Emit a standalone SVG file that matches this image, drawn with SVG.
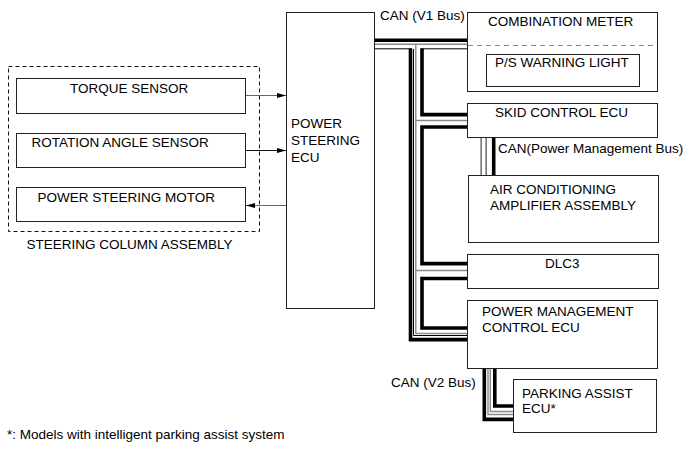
<svg xmlns="http://www.w3.org/2000/svg" width="691" height="467" viewBox="0 0 691 467">
<defs>
<style>
.box{fill:#fff;stroke:#222;stroke-width:1}
.dash{fill:none;stroke:#111;stroke-width:1;stroke-dasharray:4 3}
.t{font-family:"Liberation Sans",Arial,sans-serif;font-size:13.5px;fill:#000}
.thick{fill:none;stroke:#000;stroke-width:3.6;stroke-linejoin:miter}
.thin{fill:none;stroke:#000;stroke-width:1}
.gray{fill:none;stroke:#8a8a8a;stroke-width:1.4}
.hollowO{fill:none;stroke:#222;stroke-width:6}
.hollowI{fill:none;stroke:#fff;stroke-width:4}
.sig{fill:none;stroke:#666;stroke-width:1}
</style>
<marker id="ah" markerWidth="10" markerHeight="6" refX="9" refY="3" orient="auto" markerUnits="userSpaceOnUse">
<path d="M0,0.5 L9,3 L0,5.5 Z" fill="#000"/>
</marker>
</defs>
<rect width="691" height="467" fill="#fff"/>

<g id="steering-column-assembly">
<rect class="dash" x="8.5" y="66.5" width="251" height="165"/>
<text class="t" x="26.5" y="248.7">STEERING COLUMN ASSEMBLY</text>
</g>
<g id="torque-sensor">
<rect class="box" x="16.5" y="78.5" width="229" height="35"/>
<text class="t" x="70" y="92.5">TORQUE SENSOR</text>
</g>
<g id="rotation-angle-sensor">
<rect class="box" x="16.5" y="133.5" width="229" height="34"/>
<text class="t" x="31.5" y="147.2">ROTATION ANGLE SENSOR</text>
</g>
<g id="power-steering-motor">
<rect class="box" x="16.5" y="187.5" width="229" height="34"/>
<text class="t" x="37.5" y="201.5">POWER STEERING MOTOR</text>
</g>
<g id="power-steering-ecu">
<rect class="box" x="286.5" y="12.5" width="88" height="296"/>
<text class="t" x="291" y="128">POWER</text>
<text class="t" x="291" y="145">STEERING</text>
<text class="t" x="291" y="162">ECU</text>
</g>
<g id="combination-meter">
<rect class="box" x="467.5" y="12.5" width="190" height="79"/>
<line x1="468" y1="45.5" x2="657" y2="45.5" stroke="#888" stroke-width="1" stroke-dasharray="5 4"/>
<text class="t" x="488" y="25.5">COMBINATION METER</text>
</g>
<g id="ps-warning-light">
<rect class="box" x="486.5" y="54.5" width="153" height="32"/>
<text class="t" x="495" y="66.5">P/S WARNING LIGHT</text>
</g>
<g id="skid-control-ecu">
<rect class="box" x="467.5" y="103.5" width="190" height="34"/>
<text class="t" x="495" y="116.5">SKID CONTROL ECU</text>
</g>
<g id="air-conditioning-amplifier">
<rect class="box" x="468.5" y="175.5" width="190" height="67"/>
<text class="t" x="490" y="194.2">AIR CONDITIONING</text>
<text class="t" x="490" y="209.9">AMPLIFIER ASSEMBLY</text>
</g>
<g id="dlc3">
<rect class="box" x="467.5" y="254.5" width="191" height="34"/>
<text class="t" x="545" y="268.2">DLC3</text>
</g>
<g id="power-management-control-ecu">
<rect class="box" x="467.5" y="300.5" width="190" height="68"/>
<text class="t" x="482" y="315.9">POWER MANAGEMENT</text>
<text class="t" x="482" y="332.2">CONTROL ECU</text>
</g>
<g id="parking-assist-ecu">
<rect class="box" x="513.5" y="379.5" width="143" height="53"/>
<text class="t" x="522" y="397.5">PARKING ASSIST</text>
<text class="t" x="522" y="413.2">ECU*</text>
</g>

<g id="connectors">
<line class="sig" x1="246" y1="95.5" x2="286" y2="95.5" marker-end="url(#ah)"/>
<line x1="246" y1="150.5" x2="286" y2="150.5" stroke="#111" stroke-width="1" marker-end="url(#ah)"/>
<line class="sig" x1="286" y1="205.5" x2="246" y2="205.5" marker-end="url(#ah)"/>

<path class="gray" d="M375,44.3 H467"/>
<path class="gray" d="M415.8,44.3 V333.5 H467"/>
<path class="gray" d="M415.8,120.5 H467"/>
<path class="gray" d="M415.8,270.5 H467"/>
<path class="thin" d="M413.5,49 V335.5 H467"/>
<path class="thin" d="M375,48.8 H412"/>
<path class="thin" d="M420.5,48.8 H467"/>
<path class="thick" d="M375,40.3 H467"/>
<path class="thick" d="M410.5,48.5 V339.6 H467"/>
<path class="thick" d="M422,48.5 V114.6 H467"/>
<path class="thick" d="M467,127 H422 V263.6 H467"/>
<path class="thick" d="M467,278.5 H422 V328 H467"/>

<path class="hollowO" d="M483.6,138 V175"/>
<path class="hollowI" d="M483.6,138 V175"/>
<path class="thick" d="M493.7,138 V175"/>

<path class="gray" d="M488,369 V414.5 H513"/>
<path class="gray" d="M490.3,369 V411.5 H513"/>
<path class="thick" d="M484.3,369 V419.4 H513"/>
<path class="thick" d="M494.8,369 V406 H513"/>
</g>

<g id="labels">
<text class="t" x="380" y="20">CAN (V1 Bus)</text>
<text class="t" x="498" y="153">CAN(Power Management Bus)</text>
<text class="t" x="391" y="386.5">CAN (V2 Bus)</text>
<text class="t" x="7" y="438.5">*: Models with intelligent parking assist system</text>
</g>
</svg>
